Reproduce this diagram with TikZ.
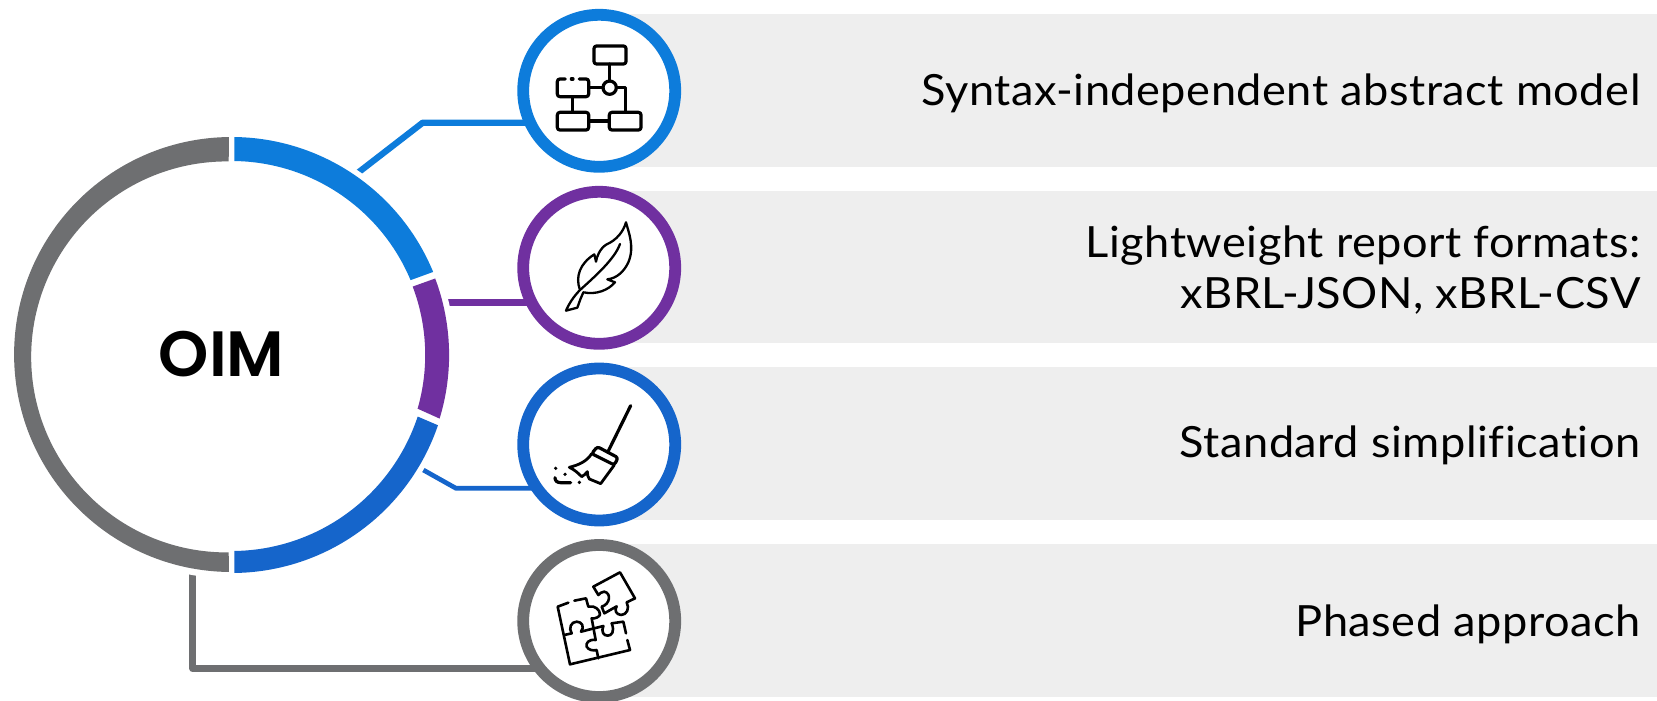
\documentclass[tikz,border=0pt]{standalone}
\usepackage{fontspec}
\usetikzlibrary{calc}
\setmainfont{Lato}[FakeStretch=1.05,LetterSpace=1.2,Ligatures=NoCommon]
\newfontfamily\oimfont{Poppins}[UprightFont=* SemiBold]
\definecolor{cblueA}{HTML}{0D7CDB}
\definecolor{cpurple}{HTML}{7030A0}
\definecolor{cblueB}{HTML}{1565CB}
\definecolor{cgray}{HTML}{6E6F71}
\definecolor{cpanel}{HTML}{EEEEEE}
\tikzset{
  panel/.style={fill=cpanel,inner sep=0,outer sep=0,minimum width=1057pt,minimum height=152.7pt,anchor=north west},
  badge/.style={circle,draw=#1,fill=white,line width=11.8pt,minimum size=152pt,inner sep=0,outer sep=0},
  link/.style={draw=#1,line join=round},
  txt/.style={anchor=base east,inner sep=0,outer sep=0,font=\fontsize{43}{51.7}\selectfont,align=right},
  icon/.style={draw=black,line width=3.2pt,line join=round,line cap=round},
  thinicon/.style={draw=black,line width=2.3pt,line join=round,line cap=round},
  zoomed/.style={shift={(#1)},x=0.33333pt,y=-0.33333pt}
}
\begin{document}
\begin{tikzpicture}[x=1pt,y=-1pt]
\useasboundingbox (0,0) rectangle (1657,701);
% panels
\node[panel] (p1) at (600,14) {};
\node[panel] (p2) at (600,190.7) {};
\node[panel] (p3) at (600,367.3) {};
\node[panel] (p4) at (600,544) {};
% badge anchors
\coordinate (c1pos) at (599.2,90.8);
\coordinate (c2pos) at (599.2,267.8);
\coordinate (c3pos) at (599.2,444.5);
\coordinate (c4pos) at (599.2,621);
% connectors
\coordinate (l1a) at (339.9,186.7);
\coordinate (l1b) at (422.7,122.7);
\coordinate (l2a) at (420,302.7);
\coordinate (l3a) at (393,453);
\coordinate (l3b) at (456,488.3);
\coordinate (l4a) at (192.85,540);
\coordinate (l4b) at (192.85,668.7);
\draw[link=cblueA,line width=6.3pt] (l1a) -- (l1b) -- (l1b -| c1pos);
\draw[link=cpurple,line width=6.5pt] (l2a) -- (l2a -| c2pos);
\draw[link=cblueB,line width=4.7pt] (l3a) -- (l3b) -- (l3b -| c3pos);
\draw[link=cgray,line width=7pt] (l4a) -- (l4b) -- (l4b -| c4pos);
% white disk trims the connector ends
\node[circle,fill=white,minimum size=447pt,inner sep=0,outer sep=0] (hub) at (231.6,355) {};
% ring
\fill[cblueA] (hub.center) ++(-89.3:218) arc[start angle=-89.3,end angle=-22.4,radius=218]
  -- ($(hub.center)+(-22.7:194)$) arc[start angle=-22.7,end angle=-89.2,radius=194] -- cycle;
\fill[cpurple] (hub.center) ++(-20.6:217.5) arc[start angle=-20.6,end angle=17,radius=217.5]
  -- ($(hub.center)+(16.1:193.6)$) arc[start angle=16.1,end angle=-20.7,radius=193.6] -- cycle;
\fill[cblueB] (hub.center) ++(18.8:218) arc[start angle=18.8,end angle=89.3,radius=218]
  -- ($(hub.center)+(89.2:196)$) arc[start angle=89.2,end angle=18.3,radius=196] -- cycle;
\coordinate (gO) at (231.6,354.5);
\fill[cgray] (gO) ++(-90.7:217.5) arc[start angle=-90.7,end angle=-269.3,radius=217.5]
  -- (228.7,552.4) arc[start angle=-270.6,end angle=-89.4,radius=195.5] -- cycle;
\node[inner sep=0,outer sep=0,anchor=base,font=\fontsize{64}{64}\selectfont\oimfont] (oim) at (221.7,376) {OIM};
% badges
\node[badge=cblueA] (c1) at (c1pos) {};
\node[badge=cpurple] (c2) at (c2pos) {};
\node[badge=cblueB] (c3) at (c3pos) {};
\node[badge=cgray] (c4) at (c4pos) {};
% labels
\node[txt] (t1) at (1640.5,106) {Syntax-independent abstract model};
\node[txt] (t2) at (1640.5,308.7) {Lightweight report formats:\\xBRL-JSON, xBRL-CSV};
\node[txt] (t3) at (1640.5,457.7) {Standard simplification};
\node[txt] (t4) at (1640.5,636) {Phased approach};
% icon 1: flow chart
\begin{scope}[zoomed={500,0}]
\draw[icon,rounded corners=2.5pt] (282,138) rectangle (378,192);
\draw[icon,rounded corners=2.5pt] (172,337) rectangle (266,390);
\draw[icon,rounded corners=2.5pt] (328,337) rectangle (423,390);
\draw[icon,rounded corners=2.5pt] (196,237) -- (172,237) -- (172,290) -- (266,290) -- (266,237) -- (238,237);
\draw[icon] (214,237) -- (219,237);
\draw[icon] (329,263) circle[radius=20];
\draw[icon] (329,192) -- (329,243);
\draw[icon] (266,263) -- (309,263);
\draw[icon] (349,263) -- (377,263) -- (377,337);
\draw[icon] (218,290) -- (218,337);
\draw[icon] (266,363) -- (328,363);
\end{scope}
% icon 2: feather
\begin{scope}[zoomed={500,175}]
\draw[thinicon] (378,142) .. controls (385,170) and (405,215) .. (385,262)
  .. controls (372,290) and (350,310) .. (322,313) -- (345,322)
  .. controls (325,345) and (290,360) .. (250,352) -- (241,373) -- (232,398) -- (198,407)
  .. controls (205,390) and (220,365) .. (240,345)
  .. controls (225,305) and (240,265) .. (283,238) -- (288,260)
  .. controls (290,245) and (300,220) .. (320,208)
  .. controls (350,195) and (370,170) .. (378,142) -- cycle;
\draw[thinicon] (360,207) .. controls (345,250) and (290,300) .. (240,345);
\end{scope}
% icon 3: broom
\begin{scope}[zoomed={500,355}]
\draw[icon] (392,152) -- (323,292);
\draw[icon,rounded corners=2.5pt] (292,275) -- (354,308) -- (343,330) -- (275,296) -- cycle;
\draw[icon,line width=2.8pt] (275,296) .. controls (260,320) and (235,330) .. (208,337)
  .. controls (225,345) and (235,355) .. (245,365) .. controls (252,362) and (258,355) .. (262,350)
  .. controls (262,360) and (264,366) .. (268,372) -- (302,386) -- (343,330);
\fill (167,340) circle[radius=5.5];
\fill (195,358) circle[radius=5.5];
\fill (238,382) circle[radius=5.5];
\draw[icon] (165,368) .. controls (165,378) and (172,383) .. (182,383) -- (212,383);
\end{scope}
% icon 4: puzzle
\begin{scope}[zoomed={545,565},thinicon/.append style={line width=2.6pt}]
\draw[thinicon] (145,65) -- (225,22) -- (270,100) -- (245,112)
  .. controls (255,130) and (245,150) .. (228,150) .. controls (212,148) and (208,135) .. (215,124)
  -- (178,145) -- (170,125) .. controls (195,118) and (200,85) .. (178,80) .. controls (170,80) and (165,85) .. (160,90) -- cycle;
\draw[thinicon] (70,113) -- (38,125) -- (75,298) -- (255,255) -- (247,225);
\draw[thinicon] (243,205) -- (235,170) -- (200,175)
  .. controls (210,200) and (200,212) .. (188,212) .. controls (175,212) and (168,200) .. (175,183) -- (108,200)
  .. controls (120,185) and (110,170) .. (95,170) .. controls (78,170) and (70,190) .. (80,205) -- (58,210);
\draw[thinicon] (88,107) -- (123,100) -- (130,125) .. controls (150,120) and (165,135) .. (165,148)
  .. controls (165,155) and (150,162) .. (140,160) -- (152,225)
  .. controls (130,222) and (122,235) .. (125,245) .. controls (130,255) and (145,258) .. (155,255) -- (160,280);
\end{scope}
\end{tikzpicture}
\end{document}
